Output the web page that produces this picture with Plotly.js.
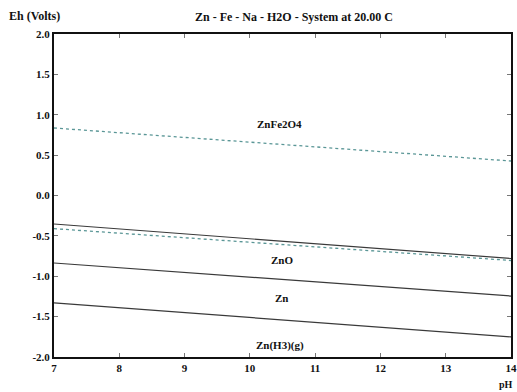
<!DOCTYPE html>
<html>
<head>
<meta charset="utf-8">
<script src="https://cdn.plot.ly/plotly-3.0.1.min.js"></script>
<style>html,body{margin:0;padding:0;background:#fff;}#chart{width:517px;height:392px;}</style>
</head>
<body>
<div id="chart"></div>
<script>
const pH = [7, 14];
const znfe2o4Upper = [0.836, 0.427];
const zno_upperSolid = [-0.353, -0.780];
const zno_upperDotted = [-0.410, -0.805];
const zno_zn = [-0.836, -1.245];
const zn_znh3 = [-1.330, -1.752];

const labelNames = ["ZnFe2O4", "ZnO", "Zn", "Zn(H3)(g)"];
const labelX = [10.46, 10.49, 10.49, 10.46];
const labelY = [0.885, -0.80, -1.27, -1.86];

const xTicks = [7, 8, 9, 10, 11, 12, 13, 14];
const yTicks = [2.0, 1.5, 1.0, 0.5, 0.0, -0.5, -1.0, -1.5, -2.0];

const serif = "Liberation Serif, Times New Roman, serif";
const solid = {color: "#3a3a3a", width: 1.2};
const dotted = {color: "#5a9696", width: 1.3, dash: "dot"};

const traces = [
  {x: pH, y: znfe2o4Upper, mode: "lines", line: dotted},
  {x: pH, y: zno_upperSolid, mode: "lines", line: solid},
  {x: pH, y: zno_upperDotted, mode: "lines", line: dotted},
  {x: pH, y: zno_zn, mode: "lines", line: solid},
  {x: pH, y: zn_znh3, mode: "lines", line: solid}
];

const txtFont = {family: serif, size: 11, color: "#111", weight: "bold"};

const annotations = labelNames.map((t, i) => ({
  x: labelX[i], y: labelY[i], xref: "x", yref: "y", text: t, showarrow: false, font: txtFont
}));
annotations.push({xref: "paper", yref: "paper", x: -54/457 + 7/457, y: 1 + 18/323, xanchor: "left", yanchor: "middle",
  text: "Eh (Volts)", showarrow: false, font: {family: serif, size: 12, color: "#111", weight: "bold"}});
annotations.push({xref: "paper", yref: "paper", x: 1 + 4/457, y: -27/323, xanchor: "right", yanchor: "middle",
  text: "pH", showarrow: false, font: {family: serif, size: 10, color: "#111", weight: "bold"}});

const layout = {
  width: 517, height: 392,
  margin: {l: 54, r: 6, t: 34, b: 35},
  paper_bgcolor: "#fff", plot_bgcolor: "#fff",
  showlegend: false,
  title: {text: "Zn - Fe - Na - H2O - System at 20.00 C", x: 294/517, xanchor: "center", y: 1 - 17/392, yanchor: "middle",
    font: {family: serif, size: 12, color: "#111", weight: "bold"}},
  xaxis: {range: [7, 14], tickvals: xTicks, ticktext: xTicks.map(String),
    showgrid: false, zeroline: false, showline: true, linewidth: 2, linecolor: "#111", mirror: "allticks",
    ticks: "inside", ticklen: 4, tickcolor: "#777", tickwidth: 1,
    tickfont: txtFont},
  yaxis: {range: [-2, 2], tickvals: yTicks, ticktext: yTicks.map(v => v.toFixed(1)),
    showgrid: false, zeroline: false, showline: true, linewidth: 2, linecolor: "#111", mirror: "allticks",
    ticks: "inside", ticklen: 4, tickcolor: "#777", tickwidth: 1,
    tickfont: txtFont},
  annotations: annotations
};

Plotly.newPlot("chart", traces, layout, {staticPlot: true, displayModeBar: false});
</script>
</body>
</html>
